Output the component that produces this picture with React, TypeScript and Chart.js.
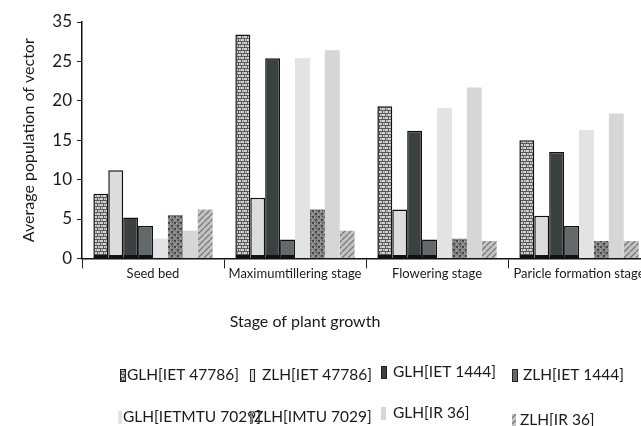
import React, { useEffect, useRef } from "react";
import { Chart, registerables } from "chart.js";

Chart.register(...registerables);

const categories = ["Seed bed", "Maximumtillering stage", "Flowering stage", "Paricle formation stage"];
const seriesNames = [
  "GLH[IET 47786]",
  "ZLH[IET 47786]",
  "GLH[IET 1444]",
  "ZLH[IET 1444]",
  "GLH[IETMTU 7029]",
  "ZLH[IMTU 7029]",
  "GLH[IR 36]",
  "ZLH[IR 36]",
];
const glhIet47786 = [8.2, 28.4, 19.3, 15.0];
const zlhIet47786 = [11.2, 7.7, 6.2, 5.4];
const glhIet1444 = [5.2, 25.4, 16.2, 13.5];
const zlhIet1444 = [4.1, 2.4, 2.4, 4.1];
const glhMtu7029 = [2.5, 25.4, 19.1, 16.3];
const zlhMtu7029 = [5.5, 6.2, 2.5, 2.2];
const glhIr36 = [3.5, 26.4, 21.7, 18.4];
const zlhIr36 = [6.2, 3.5, 2.2, 2.2];
const seriesValues = [glhIet47786, zlhIet47786, glhIet1444, zlhIet1444, glhMtu7029, zlhMtu7029, glhIr36, zlhIr36];

const yTickValues = [0, 5, 10, 15, 20, 25, 30];
const yTickLabels = ["0", "5", "10", "15", "20", "25", "35"];

const FONT = "Lato";

function makePattern(kind: string): CanvasPattern | string {
  const t = document.createElement("canvas");
  t.width = 6;
  t.height = 6;
  const c = t.getContext("2d");
  if (!c) return "#999";
  if (kind === "check") {
    c.fillStyle = "#d2d2d2";
    c.fillRect(0, 0, 6, 6);
    c.fillStyle = "#585858";
    c.fillRect(0, 2, 6, 1);
    c.fillRect(0, 5, 6, 1);
    c.fillRect(1, 0, 1, 2);
    c.fillRect(4, 3, 1, 2);
    c.fillStyle = "#9c9c9c";
    c.fillRect(3, 0, 1, 2);
    c.fillRect(0, 3, 1, 2);
  } else if (kind === "darktex") {
    c.fillStyle = "#858585";
    c.fillRect(0, 0, 6, 6);
    c.fillStyle = "#474747";
    c.fillRect(0, 0, 2, 2);
    c.fillRect(3, 3, 2, 2);
    c.fillRect(4, 0, 1, 1);
    c.fillStyle = "#b0b0b0";
    c.fillRect(2, 1, 1, 1);
    c.fillRect(0, 4, 1, 1);
  } else if (kind === "diag") {
    c.fillStyle = "#c4c4c4";
    c.fillRect(0, 0, 6, 6);
    c.strokeStyle = "#7a7a7a";
    c.lineWidth = 1.3;
    c.beginPath();
    c.moveTo(0, 6);
    c.lineTo(6, 0);
    c.stroke();
  }
  const p = c.createPattern(t, "repeat");
  return p || "#999";
}

export default function App() {
  const ref = useRef<HTMLCanvasElement | null>(null);

  useEffect(() => {
    const canvas = ref.current;
    if (!canvas) return;

    const fills: (CanvasPattern | string)[] = [
      makePattern("check"),
      "#dcdcdc",
      "#3b4040",
      "#63686a",
      "#e3e3e3",
      makePattern("darktex"),
      "#d6d6d6",
      makePattern("diag"),
    ];
    const bordered = [true, true, true, true, false, false, false, false];

    const datasets = seriesNames.map((name, i) => ({
      label: name,
      data: seriesValues[i],
      backgroundColor: fills[i],
      borderColor: "#111",
      borderWidth: bordered[i] ? { top: 1.5, left: 1.5, right: 1.5, bottom: 3 } : 0,
      borderSkipped: false as const,
      categoryPercentage: 0.84,
      barPercentage: 1.0,
    }));

    const legendLayout = [
      { bx: 120, bw: 6, tx: 127, y: 375 },
      { bx: 250, bw: 5, tx: 262, y: 375 },
      { bx: 381, bw: 6, tx: 393, y: 372 },
      { bx: 512, bw: 6, tx: 523, y: 375 },
      { bx: 118, bw: 4, tx: 123, y: 417 },
      { bx: 250, bw: 3, tx: 254, y: 417 },
      { bx: 381, bw: 5, tx: 393, y: 413 },
      { bx: 512, bw: 4, tx: 520, y: 420 },
    ];

    const extras = {
      id: "extras",
      afterDraw(chart: any) {
        const ctx = chart.ctx;
        ctx.save();
        ctx.fillStyle = "#1a1a1a";
        ctx.font = `16px ${FONT}`;
        ctx.textAlign = "center";
        ctx.textBaseline = "middle";
        ctx.fillText("Stage of plant growth", 305, 322);

        ctx.font = `15.5px ${FONT}`;
        ctx.textAlign = "left";
        chart.data.datasets.forEach((ds: any, i: number) => {
          const L = legendLayout[i];
          ctx.fillStyle = ds.backgroundColor;
          ctx.fillRect(L.bx, L.y - 6, L.bw, 13);
          if (bordered[i]) {
            ctx.strokeStyle = "#222";
            ctx.lineWidth = 1;
            ctx.strokeRect(L.bx + 0.5, L.y - 5.5, L.bw - 1, 12);
          }
          ctx.fillStyle = "#1a1a1a";
          ctx.fillText(ds.label, L.tx, L.y);
        });
        ctx.restore();
      },
    };

    const chart = new Chart(canvas, {
      type: "bar",
      data: { labels: categories, datasets },
      options: {
        responsive: false,
        animation: false,
        layout: { padding: { left: 15, top: 22, right: 0, bottom: 146 } },
        plugins: {
          legend: { display: false },
          tooltip: { enabled: false },
        },
        scales: {
          x: {
            offset: true,
            grid: {
              display: true,
              drawOnChartArea: false,
              drawTicks: true,
              tickLength: 10,
              color: "#222",
              lineWidth: 1,
              offset: true,
            },
            border: { display: true, color: "#111", width: 1.5 },
            ticks: {
              color: "#1a1a1a",
              font: { family: FONT, size: 13 },
              padding: -2,
              maxRotation: 0,
              minRotation: 0,
              autoSkip: false,
            },
          },
          y: {
            min: 0,
            max: 30,
            afterFit(scale: any) {
              scale.width = 67;
            },
            grid: {
              display: true,
              drawOnChartArea: false,
              drawTicks: true,
              tickLength: 5,
              color: "#222",
              lineWidth: 1,
            },
            border: { display: true, color: "#111", width: 1.5 },
            ticks: {
              stepSize: 5,
              color: "#1a1a1a",
              font: { family: FONT, size: 17 },
              padding: 5,
              callback: (v: any) => {
                const i = yTickValues.indexOf(Number(v));
                return i >= 0 ? yTickLabels[i] : "";
              },
            },
            title: {
              display: true,
              text: "Average population of vector",
              color: "#1a1a1a",
              font: { family: FONT, size: 16 },
              padding: { top: 4, bottom: 4 },
            },
          },
        },
      },
      plugins: [extras],
    });

    return () => {
      chart.destroy();
    };
  }, []);

  return (
    <div
      style={{
        position: "fixed",
        left: 0,
        top: 0,
        width: 641,
        height: 426,
        overflow: "hidden",
        background: "#fff",
      }}
    >
      <canvas ref={ref} width={650} height={426} style={{ display: "block", width: 650, height: 426 }} />
    </div>
  );
}
